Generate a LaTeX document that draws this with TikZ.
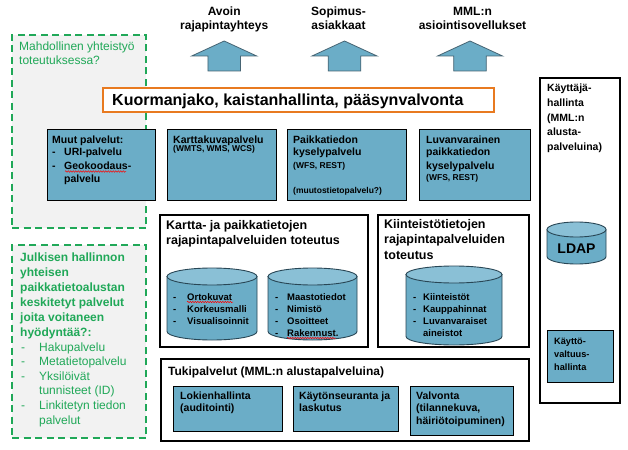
\documentclass[tikz,border=0pt]{standalone}
\usepackage{fontspec}
\setmainfont{Liberation Sans}
\usetikzlibrary{fit,decorations.pathmorphing}
\definecolor{boxblue}{RGB}{107,173,199}
\definecolor{cyltop}{RGB}{138,192,214}
\definecolor{dgreen}{RGB}{32,168,88}
\definecolor{lgray}{RGB}{242,242,242}
\definecolor{orng}{RGB}{232,122,32}
\definecolor{arrowline}{RGB}{70,100,115}
\definecolor{cylline}{RGB}{40,70,85}
\newcommand\ml[1]{\vtop{\halign{##\hfil\cr#1\crcr}}}
\newcommand\mlc[1]{\vtop{\halign{\hfil##\hfil\cr#1\crcr}}}
\newcommand\dsh[1]{\makebox[#1][l]{-}}
\newcommand\myfs[2]{\fontsize{#1}{#2}\selectfont}
\newcommand\smalltxt{\myfs{8.5}{10}}
% cylinder: cx, rx, top, bottom, ry
\newcommand\cyl[5]{%
  \filldraw[cylbody] (#1-#2,#3+#5) -- (#1-#2,#4-#5)
     arc[start angle=180,end angle=360,x radius=#2pt,y radius=#5pt]
     -- (#1+#2,#3+#5) -- cycle;
  \filldraw[cyltopst] (#1,#3+#5) ellipse[x radius=#2pt,y radius=#5pt];}
\begin{document}
\begin{tikzpicture}[x=1pt,y=-1pt,
  svc/.style={draw=black, line width=1pt, fill=boxblue, inner sep=0pt},
  frame/.style={draw=black, line width=2pt, fill=white, inner sep=0pt},
  gbox/.style={draw=dgreen, line width=2pt, dash pattern=on 7pt off 4.5pt, fill=lgray, inner sep=0pt},
  txt/.style={inner sep=0pt, anchor=base west},
  ctxt/.style={inner sep=0pt, anchor=base},
  arrowst/.style={fill=boxblue, draw=arrowline, line width=0.8pt, line join=miter},
  cylbody/.style={fill=boxblue, draw=cylline, line width=0.9pt},
  cyltopst/.style={fill=cyltop, draw=cylline, line width=0.9pt},
  squig/.style={draw=red, line width=0.5pt, decorate, decoration={snake, amplitude=0.7pt, segment length=2.5pt}},
  svcfont/.style={font=\bfseries\myfs{10.5}{13}}
]
\path[use as bounding box, fill=white] (0,0) rectangle (628,449);

% green dashed areas
\node[gbox, fit={(12,35) (146,228)}] (g1) {};
\node[txt, text=dgreen, font=\myfs{12}{14}] (g1t) at (19,51) {\ml{Mahdollinen yhteistyö\cr toteutuksessa?}};
\node[gbox, fit={(12,245) (146,438)}] (g2) {};
\node[txt, text=dgreen, font=\bfseries\myfs{12}{15}] (g2t) at (20,261)
  {\ml{Julkisen hallinnon\cr yhteisen\cr paikkatietoalustan\cr keskitetyt palvelut\cr joita voitaneen\cr hyödyntää?:}};
\node[txt, text=dgreen, font=\myfs{12}{14.6}] (g2l) at (21,351)
  {\ml{\dsh{18pt}Hakupalvelu\cr \dsh{18pt}Metatietopalvelu\cr \dsh{18pt}Yksilöivät\cr \hspace*{18pt}tunnisteet (ID)\cr \dsh{18pt}Linkitetyn tiedon\cr \hspace*{18pt}palvelut}};

% up arrows
\foreach \cx in {224.2,344.5,470}
  \draw[arrowst] (\cx,41) -- (\cx+32.5,56) -- (\cx+16.3,56) -- (\cx+16.3,71)
     -- (\cx-16.3,71) -- (\cx-16.3,56) -- (\cx-32.5,56) -- cycle;
\node[ctxt, font=\bfseries\myfs{12}{14}] (l1) at (224.2,15.5) {\mlc{Avoin\cr rajapintayhteys}};
\node[ctxt, font=\bfseries\myfs{12}{14}] (l2) at (338.5,15.5) {\mlc{Sopimus-\cr asiakkaat}};
\node[ctxt, font=\bfseries\myfs{12}{14}] (l3) at (472.5,15.5) {\mlc{MML:n\cr asiointisovellukset}};

% load balancing bar
\node[fit={(103,88) (494,112)}, draw=orng, line width=2.5pt, fill=white, inner sep=0pt] (lb) {};
\node[txt, font=\bfseries\myfs{16}{18}] (lbt) at (112,105.5) {Kuormanjako, kaistanhallinta, pääsynvalvonta};

% service boxes
\node[svc, fit={(47,130) (155,200)}] (muut) {};
\node[txt, svcfont] (muutt) at (52,143)
  {\ml{Muut palvelut:\cr \dsh{12pt}URI-palvelu\cr \dsh{12pt}Geokoodaus-\cr \hspace*{12pt}palvelu}};
\node[svc, fit={(167,130) (276,200)}] (kk) {};
\node[txt, svcfont] (kkt) at (173,143)
  {\ml{Karttakuvapalvelu\cr\noalign{\vskip-4pt}{\smalltxt (WMTS, WMS, WCS)}}};
\node[svc, fit={(287,130) (406,200)}] (pk) {};
\node[txt, svcfont] (pkt) at (293,143)
  {\ml{Paikkatiedon\cr kyselypalvelu\cr\noalign{\vskip-1pt}{\smalltxt (WFS, REST)}\cr \cr {\smalltxt (muutostietopalvelu?)}}};
\node[svc, fit={(419,130) (530,200)}] (lv) {};
\node[txt, svcfont] (lvt) at (426,143)
  {\ml{Luvanvarainen\cr paikkatiedon\cr kyselypalvelu\cr\noalign{\vskip-2pt}{\smalltxt (WFS, REST)}}};

% interface implementation frames
\node[frame, fit={(160,215) (368,347)}] (kp) {};
\node[txt, font=\bfseries\myfs{12.5}{15.5}] (kpt) at (166,229)
  {\ml{Kartta- ja paikkatietojen\cr rajapintapalveluiden toteutus}};
\node[frame, fit={(378,215) (529,347)}] (kt) {};
\node[txt, font=\bfseries\myfs{12.5}{15.5}] (ktt) at (384,228)
  {\ml{Kiinteistötietojen\cr rajapintapalveluiden\cr toteutus}};

% databases
\cyl{212}{45}{268}{340}{8.5}
\cyl{312.5}{44.5}{268}{340}{8.5}
\cyl{454}{48}{266}{345}{8.5}
\node[txt, font=\bfseries\myfs{9.5}{12.3}] (c1t) at (173,300)
  {\ml{\dsh{14pt}Ortokuvat\cr \dsh{14pt}Korkeusmalli\cr \dsh{14pt}Visualisoinnit}};
\node[txt, font=\bfseries\myfs{9.5}{12}] (c2t) at (275,300.5)
  {\ml{\dsh{12pt}Maastotiedot\cr \dsh{12pt}Nimistö\cr \dsh{12pt}Osoitteet\cr \dsh{12pt}Rakennust.}};
\node[txt, font=\bfseries\myfs{9.5}{12}] (c3t) at (413,300)
  {\ml{\dsh{10pt}Kiinteistöt\cr \dsh{10pt}Kauppahinnat\cr \dsh{10pt}Luvanvaraiset\cr \hspace*{10pt}aineistot}};

% support services
\node[frame, fit={(161,359) (529,441)}] (tk) {};
\node[txt, font=\bfseries\myfs{12}{14}] (tkt) at (168,375) {Tukipalvelut (MML:n alustapalveluina)};
\node[svc, fit={(173,386) (282,431)}] (lok) {};
\node[txt, font=\bfseries\myfs{10.5}{12.5}] (lokt) at (180,399) {\ml{Lokienhallinta\cr (auditointi)}};
\node[svc, fit={(293,386) (398,431)}] (kay) {};
\node[txt, font=\bfseries\myfs{10.5}{12.5}] (kayt) at (299,399) {\ml{Käytönseuranta ja\cr laskutus}};
\node[svc, fit={(410,386) (513,435)}] (val) {};
\node[txt, font=\bfseries\myfs{10.5}{12.5}] (valt) at (416,399) {\ml{Valvonta\cr (tilannekuva,\cr häiriötoipuminen)}};

% user management
\node[frame, fit={(540,78) (620,403)}] (kh) {};
\node[txt, font=\bfseries\myfs{10.5}{14.6}] (kht) at (547,92)
  {\ml{Käyttäjä-\cr hallinta\cr (MML:n\cr alusta-\cr palveluina)}};
\cyl{576.5}{29.5}{222}{264}{7.5}
\node[ctxt, font=\bfseries\myfs{14}{16}] (ldap) at (576.5,253) {LDAP};
\node[svc, fit={(547,330) (613,382)}] (kv) {};
\node[txt, font=\bfseries\myfs{9.2}{13}] (kvt) at (554,344) {\ml{Käyttö-\cr valtuus-\cr hallinta}};

% spell-check squiggles
\coordinate (s1a) at (65,171.5); \coordinate (s1b) at (126,171.5);
\coordinate (s2a) at (187,302); \coordinate (s2b) at (233,302);
\coordinate (s3a) at (287,338); \coordinate (s3b) at (336,338);
\draw[squig] (s1a) -- (s1b);
\draw[squig] (s2a) -- (s2b);
\draw[squig] (s3a) -- (s3b);
\end{tikzpicture}
\end{document}
